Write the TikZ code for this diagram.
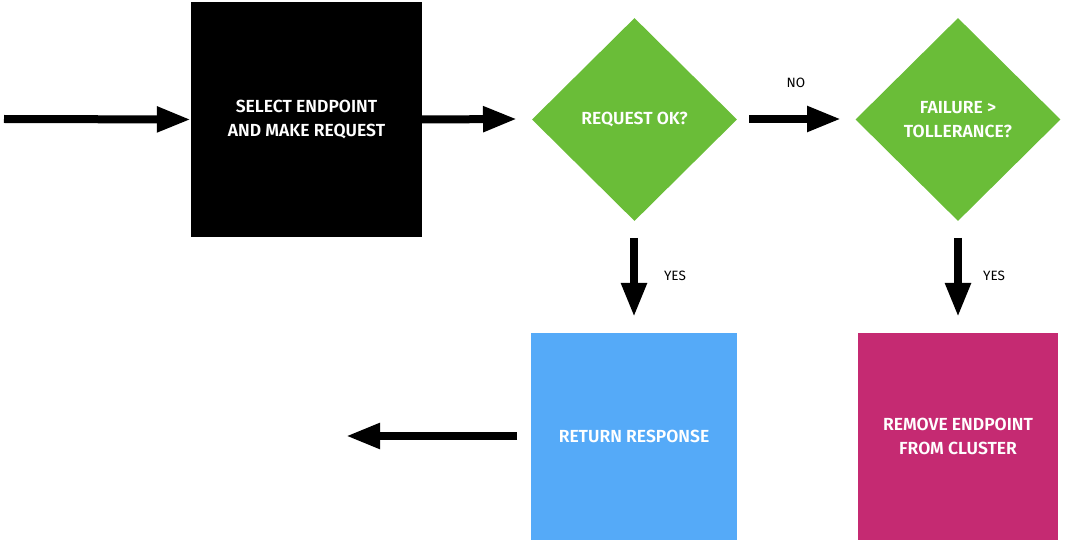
\documentclass[tikz,border=0pt]{standalone}
\usepackage{fontspec}
\setmainfont{Fira Sans}[BoldFont={Fira Sans SemiBold}]
\usetikzlibrary{arrows.meta,shapes.geometric}
\definecolor{dgreen}{HTML}{6ABD38}
\definecolor{dblue}{HTML}{55AAF8}
\definecolor{dmag}{HTML}{C52A72}
\tikzset{
  box/.style={draw=none,rectangle,inner sep=0pt,text=white,font=\fontsize{17.5}{24}\selectfont\bfseries,align=center},
  dia/.style={draw=none,diamond,inner sep=0pt,fill=dgreen,text=white,font=\fontsize{17.5}{24}\selectfont\bfseries,align=center,minimum width=205pt,minimum height=203pt,aspect=1},
  conn/.style={line width=8pt,-{Triangle[length=34pt,width=24pt]}},
  lbl/.style={font=\fontsize{13.5}{15}\selectfont,inner sep=0pt}
}
\begin{document}
\begin{tikzpicture}[x=1pt,y=-1pt]
\useasboundingbox (0,0) rectangle (1074,556);
\node[box,fill=black,minimum width=231pt,minimum height=235pt] (sel) at (306.5,119.5) {SELECT ENDPOINT\\AND MAKE REQUEST};
\node[dia] (ok) at (634.5,119.5) {REQUEST OK?};
\node[dia] (fail) at (958,119.5) {FAILURE >\\TOLLERANCE?};
\node[box,fill=dblue,minimum width=206pt,minimum height=207pt] (ret) at (634,436.5) {RETURN RESPONSE};
\node[box,fill=dmag,minimum width=200pt,minimum height=207pt] (rem) at (958,436.5) {REMOVE ENDPOINT\\FROM CLUSTER};
\coordinate (start) at (4,119);
\coordinate (endl) at (346,436);
\draw[conn] (start) -- (sel.west);
\draw[conn] (sel.east) -- (517,119);
\draw[conn] (749,119) -- (841,119);
\draw[conn] (634,238) -- (634,317);
\draw[conn] (958,238) -- (958,317);
\draw[conn] (517,436) -- (endl);
\node[lbl] (no) at (796,83) {NO};
\node[lbl] (yes1) at (675,276) {YES};
\node[lbl] (yes2) at (994,276) {YES};
\end{tikzpicture}
\end{document}
